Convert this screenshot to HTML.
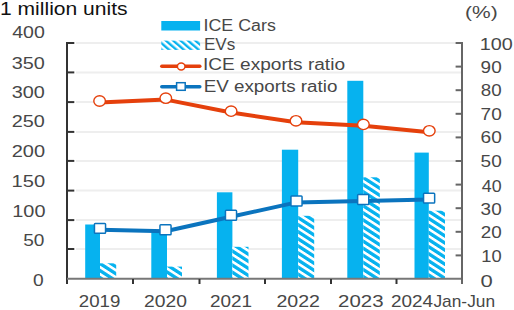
<!DOCTYPE html>
<html><head><meta charset="utf-8">
<style>
html,body{margin:0;padding:0;background:#fff;width:514px;height:310px;overflow:hidden}
svg{display:block}
text{font-family:"Liberation Sans",sans-serif}
</style></head><body>
<svg width="514" height="310" viewBox="0 0 514 310">
<defs>
<pattern id="hatch0" patternUnits="userSpaceOnUse" width="5" height="5" patternTransform="translate(0,3.0) scale(1.55,1) rotate(-45)"><rect width="5" height="5" fill="#fff"/><rect width="2.8" height="5" fill="#06B2EF"/></pattern>
<pattern id="hatch1" patternUnits="userSpaceOnUse" width="5" height="5" patternTransform="translate(0,3.6) scale(1.55,1) rotate(-45)"><rect width="5" height="5" fill="#fff"/><rect width="2.8" height="5" fill="#06B2EF"/></pattern>
<pattern id="hatch2" patternUnits="userSpaceOnUse" width="5" height="5" patternTransform="translate(0,4.1) scale(1.55,1) rotate(-45)"><rect width="5" height="5" fill="#fff"/><rect width="2.8" height="5" fill="#06B2EF"/></pattern>
<pattern id="hatch3" patternUnits="userSpaceOnUse" width="5" height="5" patternTransform="translate(0,-1.0) scale(1.55,1) rotate(-45)"><rect width="5" height="5" fill="#fff"/><rect width="2.8" height="5" fill="#06B2EF"/></pattern>
<pattern id="hatch4" patternUnits="userSpaceOnUse" width="5" height="5" patternTransform="translate(0,1.8) scale(1.55,1) rotate(-45)"><rect width="5" height="5" fill="#fff"/><rect width="2.8" height="5" fill="#06B2EF"/></pattern>
<pattern id="hatch5" patternUnits="userSpaceOnUse" width="5" height="5" patternTransform="translate(0,0.4) scale(1.55,1) rotate(-45)"><rect width="5" height="5" fill="#fff"/><rect width="2.8" height="5" fill="#06B2EF"/></pattern>
<pattern id="hatchL" patternUnits="userSpaceOnUse" width="4.5" height="4.5" patternTransform="translate(0,1) scale(1.16,1) rotate(-45)"><rect width="4.5" height="4.5" fill="#fff"/><rect width="2.2" height="4.5" fill="#06B2EF"/></pattern>
</defs>
<g stroke="#EEEEEE" stroke-width="2">
<line x1="76" y1="43" x2="461" y2="43"/>
<line x1="76" y1="72.4" x2="461" y2="72.4"/>
<line x1="76" y1="102.1" x2="461" y2="102.1"/>
<line x1="76" y1="131.9" x2="461" y2="131.9"/>
<line x1="76" y1="160.9" x2="461" y2="160.9"/>
<line x1="76" y1="190.6" x2="461" y2="190.6"/>
<line x1="76" y1="220.1" x2="461" y2="220.1"/>
<line x1="76" y1="249.0" x2="461" y2="249.0"/>
</g>
<g fill="#06B2EF">
<rect x="85.2" y="224.5" width="14.80" height="54.50"/>
<rect x="151.3" y="230.5" width="15.70" height="48.50"/>
<rect x="216.9" y="192.3" width="15.50" height="86.70"/>
<rect x="281.9" y="149.7" width="16.30" height="129.30"/>
<rect x="347.3" y="80.8" width="16.00" height="198.20"/>
<rect x="414.5" y="152.6" width="14.30" height="126.40"/>
</g>
<rect x="100" y="263.3" width="16.20" height="15.70" fill="url(#hatch0)"/>
<rect x="167" y="266.6" width="15.00" height="12.40" fill="url(#hatch1)"/>
<rect x="232.4" y="246.8" width="16.10" height="32.20" fill="url(#hatch2)"/>
<rect x="298.2" y="215.8" width="16.00" height="63.20" fill="url(#hatch3)"/>
<rect x="363.3" y="177.3" width="16.50" height="101.70" fill="url(#hatch4)"/>
<rect x="428.8" y="210.7" width="16.20" height="68.30" fill="url(#hatch5)"/>
<line x1="67" y1="42" x2="67" y2="284" stroke="#333" stroke-width="2"/>
<g stroke="#333" stroke-width="2">
<line x1="67" y1="43" x2="74.3" y2="43"/>
<line x1="67" y1="72.4" x2="74.3" y2="72.4"/>
<line x1="67" y1="102.1" x2="74.3" y2="102.1"/>
<line x1="67" y1="131.9" x2="74.3" y2="131.9"/>
<line x1="67" y1="160.9" x2="74.3" y2="160.9"/>
<line x1="67" y1="190.6" x2="74.3" y2="190.6"/>
<line x1="67" y1="220.1" x2="74.3" y2="220.1"/>
<line x1="67" y1="249.0" x2="74.3" y2="249.0"/>
</g>
<line x1="67" y1="278.7" x2="462" y2="278.7" stroke="#777" stroke-width="2"/>
<g stroke="#333" stroke-width="2">
<line x1="133" y1="279" x2="133" y2="284"/>
<line x1="199.5" y1="279" x2="199.5" y2="284"/>
<line x1="265" y1="279" x2="265" y2="284"/>
<line x1="331" y1="279" x2="331" y2="284"/>
<line x1="396.5" y1="279" x2="396.5" y2="284"/>
</g>
<line x1="462" y1="42" x2="462" y2="284" stroke="#666" stroke-width="2"/>
<g stroke="#666" stroke-width="2">
<line x1="455.6" y1="43.0" x2="462" y2="43.0"/>
<line x1="455.6" y1="66.6" x2="462" y2="66.6"/>
<line x1="455.6" y1="90.2" x2="462" y2="90.2"/>
<line x1="455.6" y1="113.8" x2="462" y2="113.8"/>
<line x1="455.6" y1="137.4" x2="462" y2="137.4"/>
<line x1="455.6" y1="161.0" x2="462" y2="161.0"/>
<line x1="455.6" y1="184.6" x2="462" y2="184.6"/>
<line x1="455.6" y1="208.2" x2="462" y2="208.2"/>
<line x1="455.6" y1="231.8" x2="462" y2="231.8"/>
<line x1="455.6" y1="255.4" x2="462" y2="255.4"/>
</g>
<polyline points="99.6,102.4 165.8,99.60000000000001 231.1,112.55000000000001 296,122.2 363.4,125.80000000000001 429.3,132.20000000000002" fill="none" stroke="#E5400C" stroke-width="4" stroke-linejoin="round"/>
<polyline points="100,229.8 165.5,231.20000000000002 231,216.70000000000002 296.5,202.4 363.2,200.9 429.1,199.5" fill="none" stroke="#0B74BE" stroke-width="4" stroke-linejoin="round"/>
<g fill="#fff" stroke="#E5400C" stroke-width="1.4">
<ellipse cx="99.6" cy="101" rx="5.8" ry="5.2"/>
<ellipse cx="165.8" cy="98.2" rx="5.8" ry="5.2"/>
<ellipse cx="231.1" cy="111.15" rx="5.8" ry="5.2"/>
<ellipse cx="296" cy="120.8" rx="5.8" ry="5.2"/>
<ellipse cx="363.4" cy="124.4" rx="5.8" ry="5.2"/>
<ellipse cx="429.3" cy="130.8" rx="5.8" ry="5.2"/>
</g>
<g fill="#fff" stroke="#0B74BE" stroke-width="1.5">
<rect x="94.45" y="223.45" width="11.1" height="9.9" rx="0.8"/>
<rect x="159.95" y="224.85" width="11.1" height="9.9" rx="0.8"/>
<rect x="225.45" y="210.35" width="11.1" height="9.9" rx="0.8"/>
<rect x="290.95" y="196.05" width="11.1" height="9.9" rx="0.8"/>
<rect x="357.65" y="194.55" width="11.1" height="9.9" rx="0.8"/>
<rect x="423.55" y="193.15" width="11.1" height="9.9" rx="0.8"/>
</g>
<rect x="161.3" y="21" width="38.8" height="9.5" fill="#06B2EF"/>
<rect x="161.3" y="40.6" width="38.8" height="9.3" fill="url(#hatchL)"/>
<line x1="161.8" y1="66.3" x2="199.8" y2="66.3" stroke="#E5400C" stroke-width="3.5" stroke-linecap="round"/>
<ellipse cx="181.2" cy="66.5" rx="3.8" ry="3.4" fill="#fff" stroke="#E5400C" stroke-width="1.5"/>
<line x1="161.8" y1="86.8" x2="199.8" y2="86.8" stroke="#0B74BE" stroke-width="3.5" stroke-linecap="round"/>
<rect x="176.6" y="82.7" width="8.6" height="7.6" fill="#fff" stroke="#0B74BE" stroke-width="1.5"/>
<text x="-0.05" y="15.09" font-size="18.00" fill="#111" textLength="127.67" lengthAdjust="spacingAndGlyphs">1 million units</text>
<text x="465.05" y="18.47" font-size="16.50" fill="#474747" textLength="32.65" lengthAdjust="spacingAndGlyphs">(%)</text>
<text x="203.54" y="31.49" font-size="15.80" fill="#474747" textLength="72.31" lengthAdjust="spacingAndGlyphs">ICE Cars</text>
<text x="203.94" y="50.39" font-size="15.80" fill="#474747" textLength="31.36" lengthAdjust="spacingAndGlyphs">EVs</text>
<text x="202.96" y="70.49" font-size="15.80" fill="#474747" textLength="142.07" lengthAdjust="spacingAndGlyphs">ICE exports ratio</text>
<text x="203.76" y="92.29" font-size="15.80" fill="#474747" textLength="133.66" lengthAdjust="spacingAndGlyphs">EV exports ratio</text>
<text x="12.15" y="37.70" font-size="16.50" fill="#474747" textLength="32.62" lengthAdjust="spacingAndGlyphs">400</text>
<text x="11.71" y="68.60" font-size="16.50" fill="#474747" textLength="33.09" lengthAdjust="spacingAndGlyphs">350</text>
<text x="11.71" y="97.60" font-size="16.50" fill="#474747" textLength="33.09" lengthAdjust="spacingAndGlyphs">300</text>
<text x="11.71" y="127.30" font-size="16.50" fill="#474747" textLength="33.09" lengthAdjust="spacingAndGlyphs">250</text>
<text x="11.71" y="157.10" font-size="16.50" fill="#474747" textLength="33.35" lengthAdjust="spacingAndGlyphs">200</text>
<text x="11.59" y="186.90" font-size="16.50" fill="#474747" textLength="33.49" lengthAdjust="spacingAndGlyphs">150</text>
<text x="12.33" y="216.50" font-size="16.50" fill="#474747" textLength="33.13" lengthAdjust="spacingAndGlyphs">100</text>
<text x="23.26" y="246.40" font-size="16.50" fill="#474747" textLength="21.21" lengthAdjust="spacingAndGlyphs">50</text>
<text x="32.93" y="286.30" font-size="16.50" fill="#474747" textLength="10.68" lengthAdjust="spacingAndGlyphs">0</text>
<text x="479.71" y="50.30" font-size="16.50" fill="#474747" textLength="33.03" lengthAdjust="spacingAndGlyphs">100</text>
<text x="480.64" y="73.10" font-size="16.50" fill="#474747" textLength="21.04" lengthAdjust="spacingAndGlyphs">90</text>
<text x="480.82" y="96.40" font-size="16.50" fill="#474747" textLength="20.86" lengthAdjust="spacingAndGlyphs">80</text>
<text x="480.61" y="120.30" font-size="16.50" fill="#474747" textLength="21.15" lengthAdjust="spacingAndGlyphs">70</text>
<text x="480.61" y="143.20" font-size="16.50" fill="#474747" textLength="21.15" lengthAdjust="spacingAndGlyphs">60</text>
<text x="480.61" y="166.60" font-size="16.50" fill="#474747" textLength="21.15" lengthAdjust="spacingAndGlyphs">50</text>
<text x="481.79" y="192.10" font-size="16.50" fill="#474747" textLength="19.81" lengthAdjust="spacingAndGlyphs">40</text>
<text x="480.64" y="215.10" font-size="16.50" fill="#474747" textLength="21.04" lengthAdjust="spacingAndGlyphs">30</text>
<text x="480.68" y="237.70" font-size="16.50" fill="#474747" textLength="20.98" lengthAdjust="spacingAndGlyphs">20</text>
<text x="481.25" y="261.60" font-size="16.50" fill="#474747" textLength="20.38" lengthAdjust="spacingAndGlyphs">10</text>
<text x="480.62" y="286.90" font-size="16.50" fill="#474747" textLength="12.26" lengthAdjust="spacingAndGlyphs">0</text>
<text x="78.83" y="307.00" font-size="16.20" fill="#474747" textLength="41.55" lengthAdjust="spacingAndGlyphs">2019</text>
<text x="144.02" y="307.00" font-size="16.20" fill="#474747" textLength="42.86" lengthAdjust="spacingAndGlyphs">2020</text>
<text x="209.94" y="307.00" font-size="16.20" fill="#474747" textLength="42.05" lengthAdjust="spacingAndGlyphs">2021</text>
<text x="276.43" y="307.00" font-size="16.20" fill="#474747" textLength="43.55" lengthAdjust="spacingAndGlyphs">2022</text>
<text x="338.11" y="307.00" font-size="16.20" fill="#474747" textLength="45.41" lengthAdjust="spacingAndGlyphs">2023</text>
<text x="390.95" y="307.00" font-size="16.20" fill="#474747" textLength="42.08" lengthAdjust="spacingAndGlyphs">2024</text>
<text x="433.46" y="307.00" font-size="16.20" fill="#474747" textLength="61.61" lengthAdjust="spacingAndGlyphs">Jan-Jun</text>
</svg>
</body></html>
